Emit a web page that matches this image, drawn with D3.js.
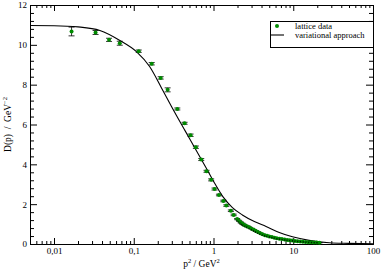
<!DOCTYPE html>
<html>
<head>
<meta charset="utf-8">
<script src="https://cdn.jsdelivr.net/npm/d3@7"></script>
<style>
  body { margin: 0; background: #fff; }
  svg { display: block; font-family: "Liberation Serif", serif; }
</style>
</head>
<body>
<svg id="chart" width="382" height="273"></svg>
<script>
var width = 382,
	height = 273;

// lattice data: p^2 (GeV^2), D(p) (GeV^-2), error
var latticeP2 = [0.0166, 0.0332, 0.049, 0.0668, 0.1155, 0.168, 0.2176, 0.266, 0.352, 0.434,
	0.516, 0.601, 0.702, 0.818, 0.935, 1.03, 1.17, 1.33, 1.45, 1.65, 1.79, 1.98,
	2.1, 2.2, 2.3, 2.4, 2.5, 2.65, 2.8, 3.0, 3.2, 3.4, 3.6, 3.85, 4.1, 4.4, 4.7,
	5.0, 5.4, 5.8, 6.2, 6.7, 7.2, 7.8, 8.4, 9.0, 9.7, 10.5, 11.3, 12.2, 13.2,
	14.3, 15.5, 16.8, 18.2, 19.7, 21.3];
var latticeD = [10.67, 10.62, 10.25, 10.08, 9.68, 9.05, 8.34, 7.74, 6.78, 6.06,
	5.46, 4.86, 4.24, 3.65, 3.22, 2.76, 2.46, 2.16, 1.93, 1.67, 1.46, 1.25,
	1.16, 1.08, 1.02, 0.97, 0.93, 0.88, 0.84, 0.77, 0.71, 0.65, 0.60, 0.54, 0.49, 0.44, 0.41,
	0.38, 0.35, 0.32, 0.29, 0.26, 0.245, 0.22, 0.20, 0.185, 0.17, 0.155, 0.14, 0.125, 0.115,
	0.10, 0.09, 0.085, 0.075, 0.07, 0.065];
var latticeErr = [0.22, 0.10, 0.08, 0.10, 0.06, 0.06, 0.06, 0.10, 0.05, 0.05,
	0.06, 0.06, 0.05, 0.05, 0.05, 0.05, 0.04, 0.04, 0.04, 0.04, 0.04, 0.03,
	0.03, 0.03, 0.03, 0.02, 0.02, 0.02, 0.02, 0.02, 0.02, 0.02, 0.02, 0.01, 0.01, 0.01, 0.01,
	0.01, 0.01, 0.01, 0.01, 0.01, 0.01, 0.01, 0.01, 0.01, 0.01, 0.01, 0.01, 0.01, 0.01,
	0.01, 0.01, 0.01, 0.01, 0.01, 0.01];

// variational approach curve
var curveP2 = [0.005, 0.01, 0.02, 0.0376, 0.067, 0.108, 0.158, 0.222, 0.296, 0.434,
	0.579, 0.8, 1.0, 1.31, 1.727, 2.3, 3.25, 4.56, 6.68, 9.77, 15.8, 28.2, 50, 100];
var curveD = [10.97, 10.96, 10.9, 10.72, 10.22, 9.66, 8.91, 7.85, 6.92, 5.73,
	4.85, 3.85, 3.15, 2.38, 1.83, 1.46, 1.13, 0.88, 0.58, 0.36, 0.18, 0.06, 0.03, 0.005];

var xMajor = [0.01, 0.1, 1, 10, 100];
var yMajor = [0, 2, 4, 6, 8, 10, 12];

var green = "#008b00";
var mLeft = 30, mRight = 373, mTop = 5, mBottom = 244;

var svg = d3.select("#chart");

var x = d3.scaleLog().domain([0.005, 100]).range([mLeft, mRight]);
var y = d3.scaleLinear().domain([0, 12]).range([mBottom, mTop]);

var xMinor = [];
for (var e = -3; e <= 2; e++) {
	for (var k = 2; k < 10; k++) {
		var v = +(k * Math.pow(10, e)).toPrecision(6);
		if (v >= 0.005 && v <= 100) xMinor.push(v);
	}
}
var yMinor = d3.range(0, 12.01, 0.4).filter(function(d) {
	return Math.abs(d / 2 - Math.round(d / 2)) > 0.01;
});

var fmt = function(d) { return String(d).replace(".", ","); };

function styleAxis(g) {
	g.selectAll("path, line").attr("stroke", "#000").attr("stroke-width", 1);
	g.selectAll("text").attr("font-family", "Liberation Serif, serif").attr("font-size", 9).attr("fill", "#000");
}

// bottom
svg.append("g").attr("transform", "translate(0," + mBottom + ")")
	.call(d3.axisBottom(x).tickValues(xMinor).tickSize(-3).tickSizeOuter(0).tickFormat(""))
	.call(styleAxis);
svg.append("g").attr("transform", "translate(0," + mBottom + ")")
	.call(d3.axisBottom(x).tickValues(xMajor).tickSize(-6).tickSizeOuter(0).tickPadding(4).tickFormat(fmt))
	.call(styleAxis);
// top
svg.append("g").attr("transform", "translate(0," + mTop + ")")
	.call(d3.axisTop(x).tickValues(xMinor).tickSize(-3).tickSizeOuter(0).tickFormat(""))
	.call(styleAxis);
svg.append("g").attr("transform", "translate(0," + mTop + ")")
	.call(d3.axisTop(x).tickValues(xMajor).tickSize(-6).tickSizeOuter(0).tickFormat(""))
	.call(styleAxis);
// left
svg.append("g").attr("transform", "translate(" + mLeft + ",0)")
	.call(d3.axisLeft(y).tickValues(yMinor).tickSize(-4).tickSizeOuter(0).tickFormat(""))
	.call(styleAxis);
svg.append("g").attr("transform", "translate(" + mLeft + ",0)")
	.call(d3.axisLeft(y).tickValues(yMajor).tickSize(-7).tickSizeOuter(0).tickPadding(3).tickFormat(d3.format("d")))
	.call(styleAxis);
// right
svg.append("g").attr("transform", "translate(" + mRight + ",0)")
	.call(d3.axisRight(y).tickValues(yMinor).tickSize(-4).tickSizeOuter(0).tickFormat(""))
	.call(styleAxis);
svg.append("g").attr("transform", "translate(" + mRight + ",0)")
	.call(d3.axisRight(y).tickValues(yMajor).tickSize(-7).tickSizeOuter(0).tickFormat(""))
	.call(styleAxis);

// curve
var curvePts = curveP2.map(function(p, i) { return [p, curveD[i]]; });
svg.append("path")
	.datum(curvePts)
	.attr("fill", "none")
	.attr("stroke", "#000")
	.attr("stroke-width", 1.1)
	.attr("d", d3.line()
		.x(function(d) { return x(d[0]); })
		.y(function(d) { return y(d[1]); })
		.curve(d3.curveMonotoneX));

// lattice points with error bars
var pts = latticeP2.map(function(p, i) { return { p: p, d: latticeD[i], e: latticeErr[i] }; });
var g = svg.append("g").selectAll("g").data(pts).enter().append("g");
g.append("line")
	.attr("x1", function(d) { return x(d.p); }).attr("x2", function(d) { return x(d.p); })
	.attr("y1", function(d) { return y(d.d + d.e); }).attr("y2", function(d) { return y(d.d - d.e); })
	.attr("stroke", "#000").attr("stroke-width", 0.8);
[1, -1].forEach(function(s) {
	g.append("line")
		.attr("x1", function(d) { return x(d.p) - 3; }).attr("x2", function(d) { return x(d.p) + 3; })
		.attr("y1", function(d) { return y(d.d + s * d.e); }).attr("y2", function(d) { return y(d.d + s * d.e); })
		.attr("stroke", "#000").attr("stroke-width", 0.8);
});
g.append("circle")
	.attr("cx", function(d) { return x(d.p); })
	.attr("cy", function(d) { return y(d.d); })
	.attr("r", 2)
	.attr("fill", green);

// axis titles
svg.append("text")
	.attr("x", (mLeft + mRight) / 2).attr("y", 267)
	.attr("text-anchor", "middle").attr("font-size", 9.5)
	.html('p<tspan dy="-4" font-size="6.5">2</tspan><tspan dy="4"> / GeV</tspan><tspan dy="-4" font-size="6.5">2</tspan>');
svg.append("text")
	.attr("transform", "translate(11," + ((mTop + mBottom) / 2) + ") rotate(-90)")
	.attr("text-anchor", "middle").attr("font-size", 9.5)
	.attr("xml:space", "preserve")
	.html('D(p)  /  GeV<tspan dy="-4" font-size="6.5">\u22122</tspan>');

// legend
var leg = svg.append("g");
leg.append("rect")
	.attr("x", 270.5).attr("y", 21.5).attr("width", 103).attr("height", 26)
	.attr("fill", "#fff").attr("stroke", "#000").attr("stroke-width", 1);
leg.append("circle").attr("cx", 277).attr("cy", 26).attr("r", 2).attr("fill", green);
leg.append("text").attr("x", 295).attr("y", 29).attr("font-size", 8.5).text("lattice data");
leg.append("line").attr("x1", 271).attr("x2", 284).attr("y1", 35).attr("y2", 35)
	.attr("stroke", "#000").attr("stroke-width", 1.1);
leg.append("text").attr("x", 295).attr("y", 38).attr("font-size", 8.5).text("variational approach");
</script>
</body>
</html>
